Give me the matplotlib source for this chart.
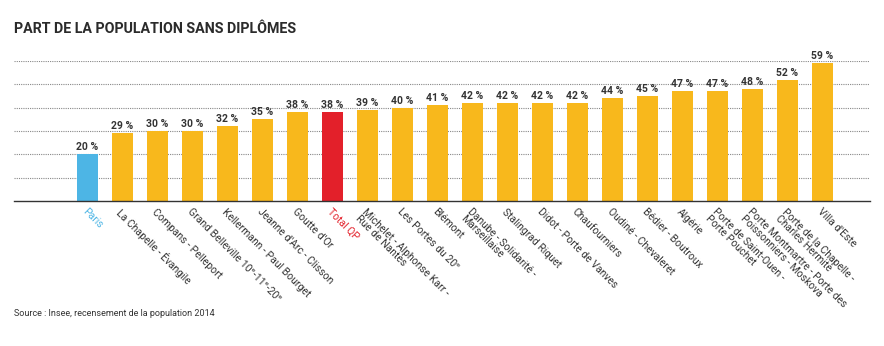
import matplotlib
matplotlib.use("Agg")
import matplotlib.pyplot as plt

categories = [
    "Paris", "La Chapelle - Évangile", "Compans - Pelleport",
    "Grand Belleville 10ᵉ-11ᵉ-20ᵉ", "Kellermann - Paul Bourget",
    "Jeanne d'Arc - Clisson", "Goutte d'Or", "Total QP",
    "Michelet - Alphonse Karr -\nRue de Nantes", "Les Portes du 20ᵉ", "Blémont",
    "Danube - Solidarité -\nMarseillaise", "Stalingrad Riquet",
    "Didot - Porte de Vanves", "Chaufourniers", "Oudiné - Chevaleret",
    "Bédier - Boutroux", "Algérie", "Porte de Saint-Ouen -\nPorte Pouchet",
    "Porte Montmartre - Porte des\nPoissonniers - Moskova",
    "Porte de la Chapelle -\nCharles Hermite", "Villa d'Este",
]
values = [20, 29, 30, 30, 32, 35, 38, 38, 39, 40, 41, 42, 42, 42, 42, 44, 45, 47, 47, 48, 52, 59]
value_labels = [f"{v} %" for v in values]
grid_ticks = [10, 20, 30, 40, 50, 60]

YELLOW = "#F8B81C"
BLUE = "#4DB5E5"
RED = "#E3202A"
TEXT = "#333333"

colors = []
for c in categories:
    if c == "Paris":
        colors.append(BLUE)
    elif c == "Total QP":
        colors.append(RED)
    else:
        colors.append(YELLOW)

plt.rcParams['font.family'] = ['Roboto', 'DejaVu Sans']

fig = plt.figure(figsize=(8.84, 3.46), dpi=100)
ax = fig.add_axes([0.0158, 0.419, 0.968, 0.405])

x = list(range(len(categories)))
ax.bar(x, values, width=0.58, color=colors, zorder=3)

for xi, v, lab in zip(x, values, value_labels):
    ax.text(xi, v + 0.8, lab, ha="center", va="bottom", fontsize=7.5,
            fontweight="bold", color=TEXT, clip_on=False)

ax.set_ylim(0, 60)
ax.set_xlim(-2.1, len(categories) - 1 + 1.35)
ax.set_yticks(grid_ticks)
ax.yaxis.grid(True, linestyle=(0, (1, 1)), color="#888888", linewidth=0.8, zorder=0)
ax.tick_params(axis="y", left=False, labelleft=False)
for s in ["top", "right", "left"]:
    ax.spines[s].set_visible(False)
ax.spines["bottom"].set_color("#333333")
ax.spines["bottom"].set_linewidth(1.0)
ax.spines["bottom"].set_zorder(4)

ax.set_xticks(x)
ax.set_xticklabels(categories, rotation=-45, ha="left", va="top",
                   rotation_mode="anchor", fontsize=7.5, linespacing=0.95)
ax.tick_params(axis="x", length=0, pad=4)
for lbl, col in zip(ax.get_xticklabels(), colors):
    if col == BLUE:
        lbl.set_color(BLUE)
    elif col == RED:
        lbl.set_color(RED)
    else:
        lbl.set_color(TEXT)

fig.text(0.0158, 0.905, "PART DE LA POPULATION SANS DIPLÔMES", fontsize=10.3,
         fontweight="bold", color="#2b2b2b", ha="left", va="baseline")
fig.text(0.0158, 0.088, "Source : Insee, recensement de la population 2014",
         fontsize=6.5, color=TEXT, ha="left", va="baseline")

fig.savefig("out.png", dpi=100)
